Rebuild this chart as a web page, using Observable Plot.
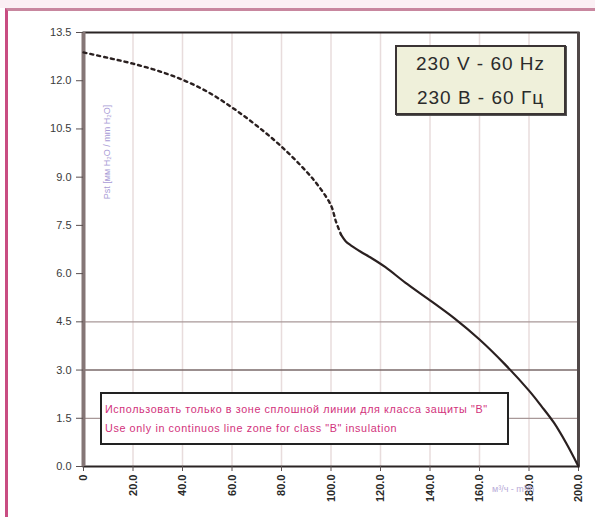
<!DOCTYPE html>
<html>
<head>
<meta charset="utf-8">
<script src="https://cdn.jsdelivr.net/npm/d3@7"></script>
<script src="https://cdn.jsdelivr.net/npm/@observablehq/plot@0.6"></script>
<style>
  html, body { margin: 0; padding: 0; background: #fff; }
  #wrap { position: relative; width: 595px; height: 517px; overflow: hidden; background: #fff; font-family: "Liberation Sans", Arial, sans-serif; }
  #topband { position: absolute; left: 0; top: 0; width: 595px; height: 8px; background: #fbf0f4; }
  #outer { position: absolute; left: 5px; top: 8px; right: -6px; bottom: -6px; border-left: 3px solid #c94d82; border-top: 3px solid #c8879f; }
  #chart { position: absolute; left: 0; top: 0; }
  .note { position: absolute; box-sizing: border-box; }
  #freq { left: 395px; top: 45px; width: 171px; height: 70px; background: #eff0da; border: 2px solid #3a3434; box-shadow: 1px 1px 0 #555; color: #2b2b2b; font-size: 19px; letter-spacing: 1px; text-align: center; line-height: 34px; padding-top: 0px; }
  #warn { left: 100px; top: 392px; width: 409px; height: 53px; background: #fff; border: 2px solid #222; color: #d2327c; font-size: 10.8px; letter-spacing: 0.6px; line-height: 19px; padding: 6px 0 0 3px; white-space: nowrap; }
  #ylab { position: absolute; left: 107px; top: 152px; transform: translate(-50%, -50%) rotate(-90deg); color: #a99bd6; font-size: 9px; white-space: nowrap; }
  #xlab { position: absolute; left: 492px; top: 484px; color: #b7abd8; font-size: 9px; white-space: nowrap; }
</style>
</head>
<body>
<div id="wrap">
  <div id="topband"></div>
  <div id="outer"></div>
  <div id="chart"></div>
  <div id="ylab">Pst [мм H₂O / mm H₂O]</div>
  <div id="xlab">м³/ч - m³/h</div>
  <div class="note" id="freq">230 V - 60 Hz<br>230 В - 60 Гц</div>
  <div class="note" id="warn">Использовать только в зоне сплошной линии для класса защиты "B"<br>Use only in continuos line zone for class "B" insulation</div>
</div>
<script>
// Axis ticks
const xTicks = [0, 20, 40, 60, 80, 100, 120, 140, 160, 180, 200];
const yTicks = [0, 1.5, 3, 4.5, 6, 7.5, 9, 10.5, 12, 13.5];
const yGridLight = [1.5, 4.5];
const yGridDark = [3];

// Fan curve: airflow (m3/h) vs static pressure
const airflow  = [0, 10, 20, 30, 40, 50, 60, 70, 80, 90, 95, 100, 102, 104, 106, 108, 112, 116, 122, 130, 140, 150, 160, 170, 180, 185, 190, 195, 200];
const pressure = [12.88, 12.71, 12.53, 12.31, 12.03, 11.66, 11.17, 10.6, 9.95, 9.18, 8.72, 8.12, 7.62, 7.22, 7.0, 6.88, 6.68, 6.5, 6.2, 5.72, 5.17, 4.6, 3.95, 3.2, 2.36, 1.88, 1.37, 0.73, 0];
const solidFrom = 104; // continuous-line zone starts here

const pts = airflow.map((x, i) => ({x, y: pressure[i]}));
const dotted = pts.filter(d => d.x <= solidFrom);
const solid = pts.filter(d => d.x >= solidFrom);

const chart = Plot.plot({
  width: 595,
  height: 517,
  marginLeft: 83,
  marginRight: 17,
  marginTop: 32,
  marginBottom: 51,
  style: { fontFamily: "Liberation Sans, Arial, sans-serif", fontSize: "11px", background: "transparent" },
  x: { domain: [0, 200], label: null },
  y: { domain: [0, 13.5], label: null },
  marks: [
    Plot.gridX(xTicks.filter(d => d > 0 && d < 200), { stroke: "#e8dcdc", strokeOpacity: 1, strokeWidth: 1.5 }),
    Plot.gridY(yGridLight, { stroke: "#a89898", strokeOpacity: 1, strokeWidth: 1.3 }),
    Plot.gridY(yGridDark, { stroke: "#7a6a6a", strokeOpacity: 1, strokeWidth: 1.6 }),
    Plot.frame({ stroke: "#2a2424", strokeWidth: 2 }),
    Plot.ruleX([200], { stroke: "#504848", strokeWidth: 3 }),
    Plot.ruleX([0], { stroke: "#857676", strokeWidth: 4 }),
    Plot.axisY(yTicks, {
      tickFormat: d => d.toFixed(1),
      tickSize: 7, tickPadding: 5,
      fill: "#3a3a3a", stroke: "#5a5050", fontSize: 11
    }),
    Plot.axisX(xTicks, {
      tickFormat: d => d === 0 ? "0" : d.toFixed(1),
      tickRotate: -90, tickSize: 5, tickPadding: 3,
      fill: "#2a2a2a", stroke: "#5a5050", fontSize: 11, fontWeight: "bold"
    }),
    Plot.line(dotted, { x: "x", y: "y", stroke: "#2a2020", strokeWidth: 2.4, strokeDasharray: "3,4", curve: "catmull-rom" }),
    Plot.line(solid, { x: "x", y: "y", stroke: "#2a2020", strokeWidth: 2.2, curve: "catmull-rom" })
  ]
});
document.getElementById("chart").appendChild(chart);
</script>
</body>
</html>
